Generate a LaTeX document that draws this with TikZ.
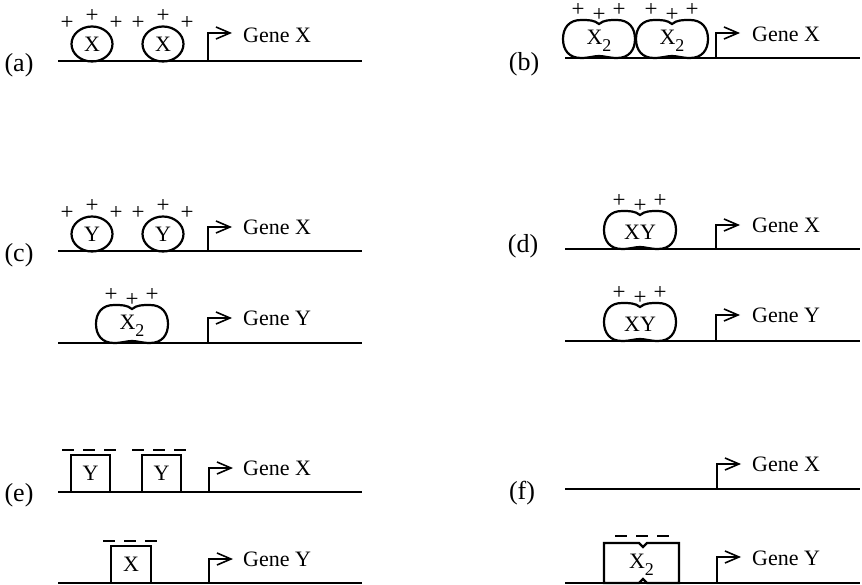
\documentclass[tikz,border=0pt]{standalone}
\usepackage{fontspec}
\setmainfont{Liberation Serif}
\usetikzlibrary{arrows.meta, shapes.geometric}
\newcommand{\xtwo}{X\raisebox{-7pt}{\fontsize{18}{18}\selectfont 2}}
% activator monomer with its charges
\newcommand{\monomer}[3]{%
  \node[mono] (#1) at #2 {#3};
  \node[charge] (#1-p1) at ([shift={(-25,-21)}]#1.center) {+};
  \node[charge] (#1-p2) at ([shift={(0,-28)}]#1.center) {+};
  \node[charge] (#1-p3) at ([shift={(24,-21)}]#1.center) {+};}
% activator dimer (peanut shape)
\newcommand{\dimer}[3]{%
  \begin{scope}[shift={#2}]
    \draw[shell] (0,-15) .. controls (5,-19) and (10,-19) .. (18,-19)
      .. controls (30,-19) and (36,-11) .. (36,0)
      .. controls (36,11) and (30,19) .. (18,19)
      .. controls (10,19) and (5,17) .. (0,17)
      .. controls (-5,17) and (-10,19) .. (-18,19)
      .. controls (-30,19) and (-36,11) .. (-36,0)
      .. controls (-36,-11) and (-30,-19) .. (-18,-19)
      .. controls (-10,-19) and (-5,-19) .. (0,-15) -- cycle;
    \node (#1) at (0,2) {#3};
    \node[charge] (#1-p1) at (-21,-29) {+};
    \node[charge] (#1-p2) at (0,-24) {+};
    \node[charge] (#1-p3) at (20,-29) {+};
  \end{scope}}

\begin{document}
\begin{tikzpicture}[
  x=1pt, y=-1pt,
  font=\fontsize{22}{24}\selectfont,
  dna/.style={line width=1.6pt},
  prom/.style={line width=1.6pt, -{Straight Barb[length=14pt,width=12pt]}},
  gene/.style={anchor=base west, inner sep=0pt},
  plabel/.style={font=\fontsize{26}{28}\selectfont, inner sep=0pt},
  mono/.style={ellipse, draw, line width=2.2pt, minimum width=41pt, minimum height=35pt, inner sep=0pt},
  shell/.style={line width=2.2pt},
  repbox/.style={rectangle, draw, line width=2.4pt, minimum height=37pt, inner sep=0pt},
  charge/.style={font=\fontsize{23}{23}\selectfont, inner sep=0pt},
  neg/.style={line width=1.1pt, dash pattern=on 12pt off 9pt},
]
  \useasboundingbox (0,0) rectangle (862,585);

  % (a) two monomers on gene X
  \node[plabel] (la) at (19,65) {(a)};
  \coordinate (a-l) at (58,61); \coordinate (a-r) at (362,61);
  \coordinate (a-tss) at (208,61); \coordinate (a-tip) at (232,33);
  \draw[dna] (a-l) -- (a-r);
  \monomer{a1}{(92,44)}{X}
  \monomer{a2}{(163,44)}{X}
  \draw[prom] (a-tss) |- (a-tip);
  \node[gene] (ga) at (243,43) {Gene X};

  % (b) two dimers on gene X
  \node[plabel] (lb) at (524,64) {(b)};
  \coordinate (b-l) at (565,58); \coordinate (b-r) at (860,58);
  \coordinate (b-tss) at (716,58); \coordinate (b-tip) at (740,33);
  \draw[dna] (b-l) -- (b-r);
  \dimer{b1}{(599,39)}{\xtwo}
  \dimer{b2}{(672,39)}{\xtwo}
  \draw[prom] (b-tss) |- (b-tip);
  \node[gene] (gb) at (752,42) {Gene X};

  % (c) Y monomers on gene X, X dimer on gene Y
  \node[plabel] (lc) at (19,255) {(c)};
  \coordinate (c-l) at (58,251); \coordinate (c-r) at (362,251);
  \coordinate (c-tss) at (208,251); \coordinate (c-tip) at (232,227);
  \draw[dna] (c-l) -- (c-r);
  \monomer{c1}{(92,234)}{Y}
  \monomer{c2}{(163,234)}{Y}
  \draw[prom] (c-tss) |- (c-tip);
  \node[gene] (gc) at (243,235) {Gene X};
  \coordinate (c2-l) at (58,343); \coordinate (c2-r) at (362,343);
  \coordinate (c2-tss) at (208,343); \coordinate (c2-tip) at (232,318);
  \draw[dna] (c2-l) -- (c2-r);
  \dimer{c3}{(132,324)}{\xtwo}
  \draw[prom] (c2-tss) |- (c2-tip);
  \node[gene] (gc2) at (243,326) {Gene Y};

  % (d) XY heterodimer on both genes
  \node[plabel] (ld) at (523,246) {(d)};
  \coordinate (d-l) at (565,249); \coordinate (d-r) at (860,249);
  \coordinate (d-tss) at (716,249); \coordinate (d-tip) at (740,225);
  \draw[dna] (d-l) -- (d-r);
  \dimer{d1}{(640,230)}{XY}
  \draw[prom] (d-tss) |- (d-tip);
  \node[gene] (gd) at (752,233) {Gene X};
  \coordinate (d2-l) at (565,341); \coordinate (d2-r) at (860,341);
  \coordinate (d2-tss) at (716,341); \coordinate (d2-tip) at (740,315);
  \draw[dna] (d2-l) -- (d2-r);
  \dimer{d2}{(640,322)}{XY}
  \draw[prom] (d2-tss) |- (d2-tip);
  \node[gene] (gd2) at (752,323) {Gene Y};

  % (e) repressor monomers
  \node[plabel] (le) at (19,495) {(e)};
  \coordinate (e-l) at (58,492); \coordinate (e-r) at (362,492);
  \coordinate (e-tss) at (209,492); \coordinate (e-tip) at (233,468);
  \draw[dna] (e-l) -- (e-r);
  \node[repbox, minimum width=39pt] (e1) at (90.5,473.5) {Y};
  \node[repbox, minimum width=39pt] (e2) at (161.5,473.5) {Y};
  \draw[neg] (62,450) -- (116,450);
  \draw[neg] (132,450) -- (186,450);
  \draw[prom] (e-tss) |- (e-tip);
  \node[gene] (ge) at (243,475) {Gene X};
  \coordinate (e2-l) at (58,583); \coordinate (e2-r) at (362,583);
  \coordinate (e2-tss) at (209,583); \coordinate (e2-tip) at (233,559);
  \draw[dna] (e2-l) -- (e2-r);
  \node[repbox, minimum width=40pt] (e3) at (131,564.5) {X};
  \draw[neg] (103,541) -- (157,541);
  \draw[prom] (e2-tss) |- (e2-tip);
  \node[gene] (ge2) at (243,566) {Gene Y};

  % (f) repressor dimer on gene Y only
  \node[plabel] (lf) at (522,493) {(f)};
  \coordinate (f-l) at (565,489); \coordinate (f-r) at (860,489);
  \coordinate (f-tss) at (717,489); \coordinate (f-tip) at (741,464);
  \draw[dna] (f-l) -- (f-r);
  \draw[prom] (f-tss) |- (f-tip);
  \node[gene] (gf) at (752,471) {Gene X};
  \coordinate (f2-l) at (565,583); \coordinate (f2-r) at (860,583);
  \coordinate (f2-tss) at (717,583); \coordinate (f2-tip) at (741,557);
  \draw[dna] (f2-l) -- (f2-r);
  \draw[line width=2.4pt] (604,543) -- (639,543) -- (643,547) -- (647,543) -- (679,543)
    -- (679,583) -- (647,583) -- (643,579) -- (639,583) -- (604,583) -- cycle;
  \node (f1) at (641.5,565) {\xtwo};
  \draw[neg] (615,536) -- (669,536);
  \draw[prom] (f2-tss) |- (f2-tip);
  \node[gene] (gf2) at (752,565) {Gene Y};
\end{tikzpicture}
\end{document}
